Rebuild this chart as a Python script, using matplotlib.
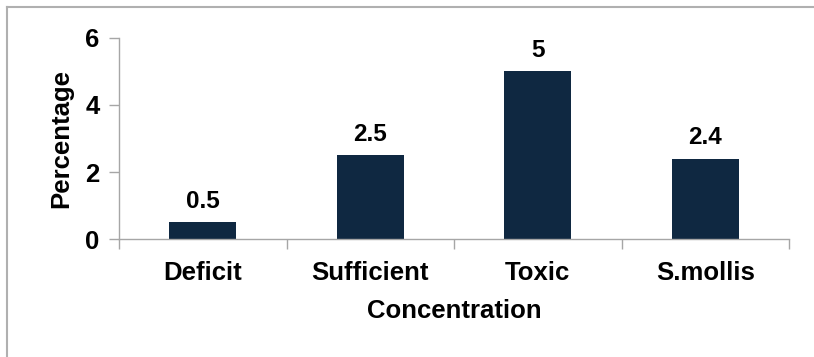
import matplotlib.pyplot as plt
from matplotlib.lines import Line2D

# Werte der Balken
categories = ["Deficit", "Sufficient", "Toxic", "S.mollis"]
values = [0.5, 2.5, 5, 2.4]
value_labels = ["0.5", "2.5", "5", "2.4"]
y_ticks = [0, 2, 4, 6]

plt.rcParams['font.family'] = ['Liberation Sans', 'DejaVu Sans']
plt.rcParams['font.weight'] = 'bold'

fig = plt.figure(figsize=(8.14, 3.57), dpi=100)
ax = fig.add_axes([0.1462, 0.3305, 0.8231, 0.5631])

bar_color = '#0F2841'
spine_color = '#A6A6A6'

x = list(range(len(categories)))
ax.bar(x, values, width=0.4, color=bar_color, zorder=2)

# Werte über den Balken
for xi, v, lab in zip(x, values, value_labels):
    ax.annotate(lab, (xi, v), xytext=(0, 7), textcoords='offset points',
                ha='center', va='bottom', fontsize=17.5, fontweight='bold')

ax.set_xlim(-0.5, len(categories) - 0.5)
ax.set_ylim(0, 6)
ax.set_yticks(y_ticks)
ax.set_yticklabels([str(t) for t in y_ticks], fontsize=18.5, fontweight='bold')

# Striche zwischen den Kategorien, Beschriftung in der Mitte
ax.set_xticks([i - 0.5 for i in range(len(categories) + 1)])
ax.set_xticklabels([])
ax.set_xticks(x, minor=True)
ax.set_xticklabels(categories, minor=True, fontsize=18.5, fontweight='bold')
ax.tick_params(axis='x', which='minor', length=0, pad=16)
ax.tick_params(axis='x', which='major', length=7, width=1, color=spine_color)
ax.tick_params(axis='y', length=7, width=1, color=spine_color, pad=7)

for side in ['top', 'right']:
    ax.spines[side].set_visible(False)
for side in ['left', 'bottom']:
    ax.spines[side].set_color(spine_color)
    ax.spines[side].set_linewidth(1)

ax.set_xlabel("Concentration", fontsize=18.5, fontweight='bold', labelpad=10)
ax.set_ylabel("Percentage", fontsize=18.5, fontweight='bold', labelpad=9)

# Rahmen oben und links
fig.add_artist(Line2D([7 / 814, 7 / 814], [0, 1 - 7 / 357], transform=fig.transFigure,
                      color='#B0B0B0', linewidth=1.5))
fig.add_artist(Line2D([7 / 814, 1], [1 - 7 / 357, 1 - 7 / 357], transform=fig.transFigure,
                      color='#B0B0B0', linewidth=1.5))

plt.savefig("out.png", dpi=100)
